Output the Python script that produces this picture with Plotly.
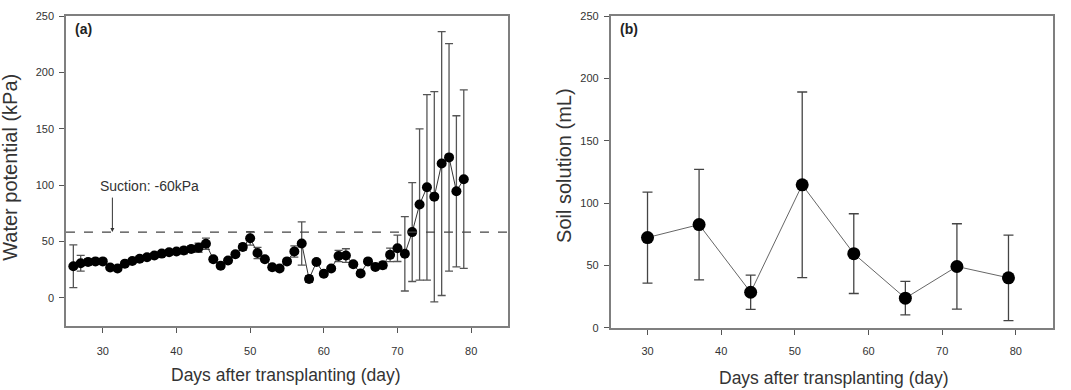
import plotly.graph_objects as go

# ---- Panel (a): water potential ----
days_a = [26, 27, 28, 29, 30, 31, 32, 33, 34, 35, 36, 37, 38, 39, 40, 41, 42, 43,
          44, 45, 46, 47, 48, 49, 50, 51, 52, 53, 54, 55, 56, 57, 58, 59, 60, 61,
          62, 63, 64, 65, 66, 67, 68, 69, 70, 71, 72, 73, 74, 75, 76, 77, 78, 79]
water_potential = [28.0, 30.6, 31.7, 32.3, 32.3, 26.9, 26.0, 30.3, 32.6, 34.6, 36.0, 37.5,
                   39.2, 40.4, 41.0, 42.0, 43.3, 44.4, 47.9, 34.2, 28.4, 33.0, 38.7, 45.0,
                   52.8, 39.8, 34.2, 27.1, 26.0, 32.3, 41.0, 48.2, 16.7, 31.7, 21.3, 25.9,
                   37.0, 37.5, 29.7, 21.6, 32.3, 27.4, 28.9, 38.1, 43.9, 39.0, 58.3, 82.8,
                   98.1, 89.8, 119.2, 124.7, 94.6, 105.3]
water_err = [19.0, 7.0, 3.0, 2.0, 2.0, 2.0, 2.0, 2.0, 2.0, 2.0, 2.0, 2.0,
             2.0, 2.0, 2.0, 3.0, 3.0, 4.0, 5.0, 2.0, 2.0, 2.0, 2.0, 3.0,
             6.0, 5.0, 2.0, 2.0, 2.0, 2.0, 5.0, 19.2, 3.0, 2.0, 2.0, 2.0,
             5.0, 6.0, 2.0, 2.0, 2.0, 2.0, 3.0, 6.0, 11.7, 33.0, 43.9, 67.2,
             82.4, 93.4, 117.2, 101.0, 67.1, 79.3]
suction_level = 58.3
suction_label = "Suction: -60kPa"

# ---- Panel (b): soil solution ----
days_b = [30, 37, 44, 51, 58, 65, 72, 79]
soil_solution = [72.4, 82.8, 28.5, 114.7, 59.5, 23.8, 49.2, 40.1]
soil_err = [36.5, 44.3, 13.8, 74.5, 32.0, 13.5, 34.3, 34.3]

x_ticks = [30, 40, 50, 60, 70, 80]
y_ticks = [0, 50, 100, 150, 200, 250]

FONT = "Liberation Sans, Arial, sans-serif"
AXCOL = "#7f7f7f"
TXT = "#333333"

fig = go.Figure()

fig.add_trace(go.Scatter(
    x=days_a, y=water_potential, mode="lines+markers",
    line=dict(color="#333333", width=1),
    marker=dict(color="black", size=10),
    error_y=dict(type="data", array=water_err, visible=True,
                 color="#555555", thickness=1.3, width=4),
    xaxis="x", yaxis="y", showlegend=False))

fig.add_trace(go.Scatter(
    x=days_b, y=soil_solution, mode="lines+markers",
    line=dict(color="#666666", width=1),
    marker=dict(color="black", size=13),
    error_y=dict(type="data", array=soil_err, visible=True,
                 color="#444444", thickness=1.3, width=5),
    xaxis="x2", yaxis="y2", showlegend=False))

axis_common = dict(showline=True, linecolor=AXCOL, linewidth=1.5, mirror=True,
                   ticks="outside", ticklen=5, tickcolor="#555555", tickwidth=1,
                   showgrid=False, zeroline=False,
                   tickfont=dict(family=FONT, size=11, color=TXT))

fig.update_layout(
    width=1071, height=390,
    margin=dict(l=0, r=0, t=0, b=0),
    paper_bgcolor="white", plot_bgcolor="white",
    font=dict(family=FONT, color=TXT),
    xaxis=dict(domain=[0.0616, 0.4743], range=[25, 85], tickvals=x_ticks,
               anchor="y", ticklabelstandoff=9, **axis_common),
    yaxis=dict(domain=[0.1538, 0.9726], range=[-25, 250], tickvals=y_ticks,
               anchor="x", ticklabelstandoff=3, **axis_common),
    xaxis2=dict(domain=[0.5702, 0.9829], range=[25, 85], tickvals=x_ticks,
                anchor="y2", ticklabelstandoff=7, **axis_common),
    yaxis2=dict(domain=[0.1487, 0.973], range=[0, 250], tickvals=y_ticks,
                anchor="x2", ticklabelstandoff=3, **axis_common),
)

# Suction threshold line
fig.add_shape(type="line", xref="x domain", yref="y", x0=0, x1=1,
              y0=suction_level, y1=suction_level,
              line=dict(color="#444444", width=1.3, dash="dash"))

annotations = [
    dict(text="<b>(a)</b>", xref="x domain", yref="y domain", x=0.016, y=0.99,
         xanchor="left", yanchor="top", showarrow=False,
         font=dict(family=FONT, size=14, color="#222222")),
    dict(text="<b>(b)</b>", xref="x2 domain", yref="y2 domain", x=0.016, y=0.99,
         xanchor="left", yanchor="top", showarrow=False,
         font=dict(family=FONT, size=14, color="#222222")),
    dict(text=suction_label, xref="x", yref="y", x=29.4, y=99.5,
         xanchor="left", yanchor="middle", showarrow=False,
         font=dict(family=FONT, size=14, color=TXT)),
    dict(text="", xref="x", yref="y", x=31.3, y=suction_level,
         ax=0, ay=-36, showarrow=True, arrowhead=2, arrowsize=0.8,
         arrowwidth=1, arrowcolor="#333333"),
    dict(text="Days after transplanting (day)", xref="paper", yref="paper",
         x=286 / 1071, y=1 - 381 / 390, xanchor="center", yanchor="middle",
         showarrow=False, font=dict(family=FONT, size=17.5, color=TXT)),
    dict(text="Days after transplanting (day)", xref="paper", yref="paper",
         x=834 / 1071, y=1 - 384 / 390, xanchor="center", yanchor="middle",
         showarrow=False, font=dict(family=FONT, size=17.5, color=TXT)),
    dict(text="Water potential (kPa)", xref="paper", yref="paper",
         x=10 / 1071, y=1 - 167 / 390, xanchor="center", yanchor="middle",
         textangle=-90, showarrow=False, font=dict(family=FONT, size=20, color=TXT)),
    dict(text="Soil solution (mL)", xref="paper", yref="paper",
         x=564 / 1071, y=1 - 165 / 390, xanchor="center", yanchor="middle",
         textangle=-90, showarrow=False, font=dict(family=FONT, size=20, color=TXT)),
]
fig.update_layout(annotations=annotations)

fig.write_html("out.html")
